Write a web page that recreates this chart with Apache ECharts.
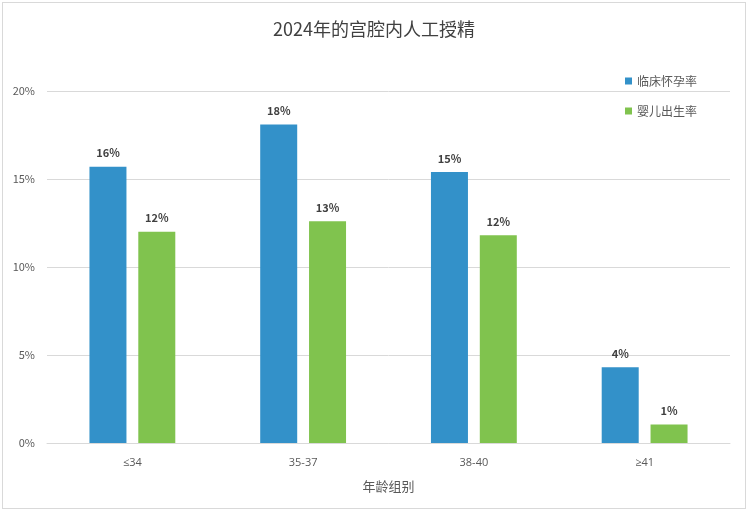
<!DOCTYPE html>
<html>
<head>
<meta charset="utf-8">
<script src="https://cdn.jsdelivr.net/npm/echarts@6/dist/echarts.min.js"></script>
<style>
html, body { margin: 0; padding: 0; background: #fff; }
#main { position: absolute; left: 2px; top: 2px; width: 744px; height: 507px; border: 1px solid #d9d9d9; box-sizing: border-box; }
</style>
</head>
<body>
<div id="main"></div>
<script>
var categories = ['≤34', '35-37', '38-40', '≥41'];
var pregnancyRate = [15.7, 18.1, 15.4, 4.3];
var birthRate = [12.0, 12.6, 11.8, 1.05];
var seriesNames = ['临床怀孕率', '婴儿出生率'];

var chart = echarts.init(document.getElementById('main'));

var labelStyle = {
	show: true,
	position: 'top',
	distance: 8,
	fontSize: 11,
	fontWeight: 'bold',
	color: '#404040',
	formatter: function (p) { return Math.round(p.value) + '%'; }
};

var option = {
	textStyle: { fontFamily: '"Noto Sans CJK SC", "Open Sans", sans-serif' },
	title: {
		text: '2024年的宫腔内人工授精',
		left: 'center',
		top: 12,
		textStyle: { fontSize: 18, fontWeight: 'normal', color: '#404040' }
	},
	legend: {
		orient: 'vertical',
		left: 617,
		top: 67,
		itemGap: 18,
		itemWidth: 7,
		itemHeight: 7,
		icon: 'rect',
		textStyle: { fontSize: 12, color: '#595959' },
		data: seriesNames
	},
	grid: { left: 44, right: 15, top: 88, bottom: 65 },
	xAxis: {
		type: 'category',
		data: categories,
		name: '年龄组别',
		nameLocation: 'middle',
		nameGap: 37,
		nameTextStyle: { fontSize: 13, color: '#595959' },
		axisLine: { lineStyle: { color: '#d9d9d9' } },
		axisTick: { show: false },
		axisLabel: { fontSize: 11, color: '#595959', margin: 14, fontFamily: '"Open Sans", sans-serif' }
	},
	yAxis: {
		type: 'value',
		min: 0,
		max: 20,
		interval: 5,
		axisLine: { show: false },
		axisTick: { show: false },
		splitLine: { lineStyle: { color: '#d9d9d9' } },
		axisLabel: { fontSize: 11, color: '#595959', formatter: '{value}%', margin: 12 }
	},
	series: [
		{
			name: seriesNames[0],
			type: 'bar',
			data: pregnancyRate,
			barWidth: 37,
			barGap: '32%',
			itemStyle: { color: '#3391c9' },
			label: labelStyle
		},
		{
			name: seriesNames[1],
			type: 'bar',
			data: birthRate,
			barWidth: 37,
			barGap: '32%',
			itemStyle: { color: '#80c34e' },
			label: labelStyle
		}
	]
};
chart.setOption(option);
</script>
</body>
</html>
